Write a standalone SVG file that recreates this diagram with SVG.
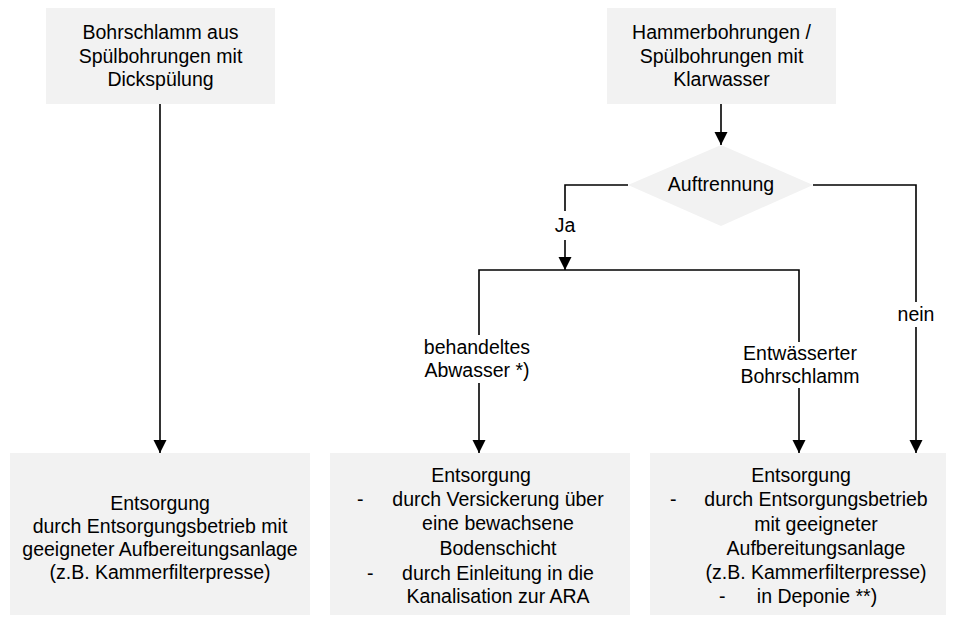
<svg xmlns="http://www.w3.org/2000/svg" width="953" height="617" viewBox="0 0 953 617">
<defs>
<style>
.box{fill:#f2f2f2;stroke:none}
.t{font-family:"Liberation Sans",Arial,sans-serif;font-size:19.5px;fill:#000}
.c{text-anchor:middle}
.ln{fill:none;stroke:#000;stroke-width:1.6}
</style>
<marker id="ah" markerUnits="userSpaceOnUse" markerWidth="13" markerHeight="14" refX="13" refY="6.5" orient="auto" viewBox="0 0 13 13">
<path d="M0,0 L13,6.5 L0,13 z" fill="#000"/>
</marker>
</defs>
<rect width="953" height="617" fill="#fff"/>

<g id="connectors">
<path class="ln" d="M160,104 V453" marker-end="url(#ah)"/>
<path class="ln" d="M721,104 V145" marker-end="url(#ah)"/>
<path class="ln" d="M628,185 H565 V211"/>
<path class="ln" d="M565,240 V270" marker-end="url(#ah)"/>
<path class="ln" d="M813,185 H916 V302"/>
<path class="ln" d="M916,327 V453" marker-end="url(#ah)"/>
<path class="ln" d="M479,335 V270 H799 V342"/>
<path class="ln" d="M479,383 V453" marker-end="url(#ah)"/>
<path class="ln" d="M799,388 V453" marker-end="url(#ah)"/>
<text class="t c" x="565" y="232">Ja</text>
<text class="t c" x="916" y="321">nein</text>
<text class="t c" x="477" y="354">behandeltes</text>
<text class="t c" x="477" y="377">Abwasser *)</text>
<text class="t c" x="800" y="360">Entwässerter</text>
<text class="t c" x="800" y="383">Bohrschlamm</text>
</g>

<g id="n1">
<rect class="box" x="46" y="8" width="229" height="96"/>
<text class="t c" x="160.5" y="39">Bohrschlamm aus</text>
<text class="t c" x="160.5" y="63">Spülbohrungen mit</text>
<text class="t c" x="160.5" y="86">Dickspülung</text>
</g>

<g id="n2">
<rect class="box" x="607" y="8" width="229" height="96"/>
<text class="t c" x="721.5" y="39">Hammerbohrungen /</text>
<text class="t c" x="721.5" y="63">Spülbohrungen mit</text>
<text class="t c" x="721.5" y="86">Klarwasser</text>
</g>

<g id="d1">
<polygon class="box" points="721,145 813,185 721,226 628,185"/>
<text class="t c" x="721" y="191">Auftrennung</text>
</g>

<g id="n3">
<rect class="box" x="10" y="453" width="300" height="162"/>
<text class="t c" x="160" y="510">Entsorgung</text>
<text class="t c" x="160" y="533">durch Entsorgungsbetrieb mit</text>
<text class="t c" x="160" y="556">geeigneter Aufbereitungsanlage</text>
<text class="t c" x="160" y="579">(z.B. Kammerfilterpresse)</text>
</g>

<g id="n4">
<rect class="box" x="330" y="453" width="300" height="162"/>
<text class="t c" x="481" y="482">Entsorgung</text>
<text class="t" x="357" y="506">-</text>
<text class="t c" x="498" y="506">durch Versickerung über</text>
<text class="t c" x="498" y="530">eine bewachsene</text>
<text class="t c" x="498" y="555">Bodenschicht</text>
<text class="t" x="367" y="580">-</text>
<text class="t c" x="498" y="580">durch Einleitung in die</text>
<text class="t c" x="498" y="603">Kanalisation zur ARA</text>
</g>

<g id="n5">
<rect class="box" x="650" y="453" width="296" height="162"/>
<text class="t c" x="801" y="482">Entsorgung</text>
<text class="t" x="670" y="506">-</text>
<text class="t c" x="816" y="506">durch Entsorgungsbetrieb</text>
<text class="t c" x="816" y="531">mit geeigneter</text>
<text class="t c" x="816" y="555">Aufbereitungsanlage</text>
<text class="t c" x="816" y="579">(z.B. Kammerfilterpresse)</text>
<text class="t" x="719" y="603">-</text>
<text class="t c" x="817" y="603">in Deponie **)</text>
</g>
</svg>
